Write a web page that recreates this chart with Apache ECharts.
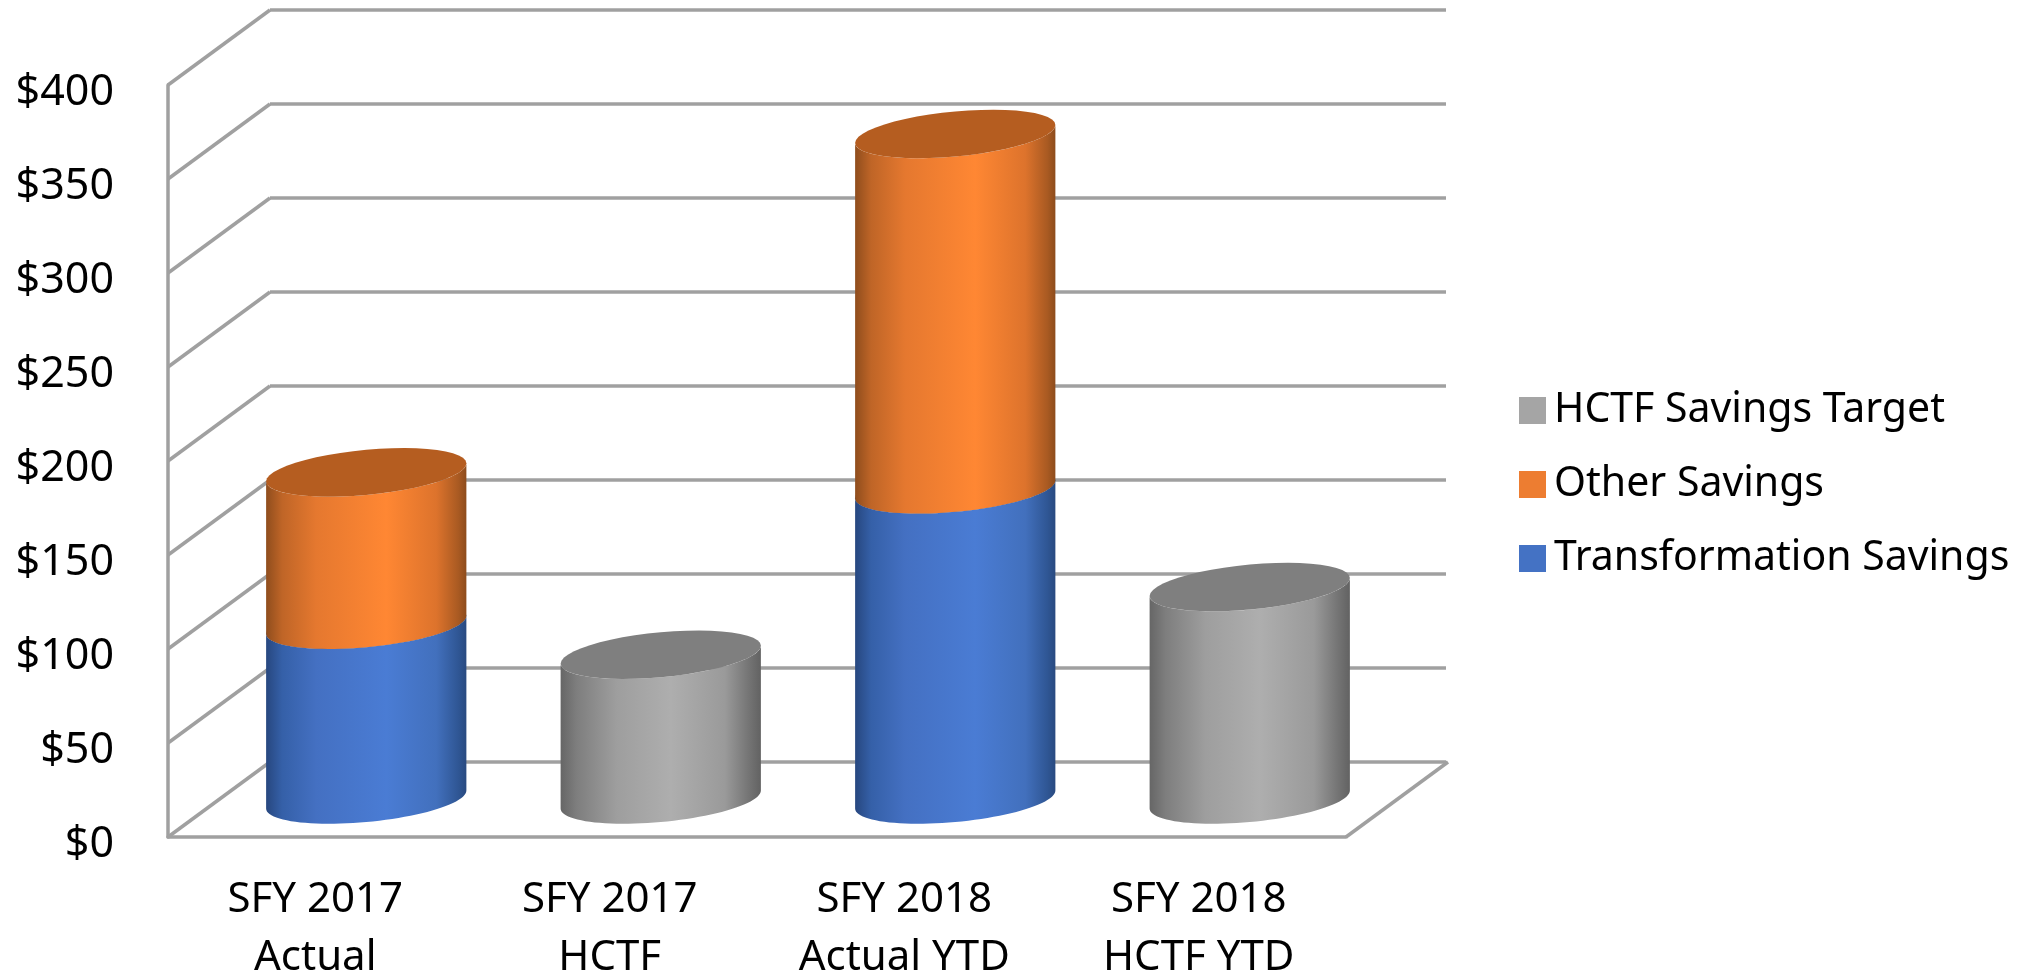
<!doctype html>
<html lang="en">
<head>
    <meta charset="UTF-8">
    <title>Savings</title>
    <script src="https://cdn.jsdelivr.net/npm/echarts@6/dist/echarts.min.js"></script>
    <style>
        html, body { margin: 0; background: #fff; }
    </style>
</head>
<body>
    <div id="main" style="width: 2022px;height:977px;"></div>
    <script>
        var categories = ['SFY 2017\nActual', 'SFY 2017\nHCTF', 'SFY 2018\nActual YTD', 'SFY 2018\nHCTF YTD'];
        var transformationSavings = [93, null, 165, null];
        var otherSavings = [81, null, 189, null];
        var targetSavings = [null, 77, null, 113];
        var yTicks = [0, 50, 100, 150, 200, 250, 300, 350, 400];

        var FONT = '"Noto Sans"';
        var GRID_COLOR = '#a0a0a0';
        // how far the back wall sits from the front of the box
        var DEPTH_X = 102;
        var DEPTH_Y = 75;

        var myChart = echarts.init(document.getElementById('main'));

        function gradient(stops) {
            return {
                type: 'linear', x: 0, y: 0, x2: 1, y2: 0,
                colorStops: stops.map(function (s) {
                    return { offset: s[0], color: s[1] };
                })
            };
        }

        // circle seen from above: sheared ellipse with its ends on the cylinder's sides
        function ellipsePoints(cx, cy, halfW, from, to) {
            var pts = [];
            var n = 48;
            for (var i = 0; i <= n; i++) {
                var t = from + (to - from) * i / n;
                pts.push([
                    cx + halfW * Math.cos(t),
                    cy - halfW * 0.09 * Math.cos(t) + halfW * 0.225 * Math.sin(t)
                ]);
            }
            return pts;
        }

        function cylinder(bodyFill, capColor) {
            return function (params, api) {
                var idx = api.value(0);
                var base = api.coord([idx, api.value(1)]);
                var top = api.coord([idx, api.value(2)]);
                var halfW = api.size([1, 0])[0] * 0.34;
                var cx = base[0] + DEPTH_X / 2;
                var yBase = base[1] - DEPTH_Y / 2;
                var yTop = top[1] - DEPTH_Y / 2;
                var body = ellipsePoints(cx, yTop, halfW, Math.PI, 0)
                    .concat(ellipsePoints(cx, yBase, halfW, 0, Math.PI));
                return {
                    type: 'group',
                    children: [{
                        type: 'polygon',
                        shape: { points: body },
                        style: { fill: bodyFill }
                    }, {
                        type: 'polygon',
                        shape: { points: ellipsePoints(cx, yTop, halfW, 0, Math.PI * 2) },
                        style: { fill: capColor }
                    }]
                };
            };
        }

        function cylinderData(lower, values) {
            var out = [];
            values.forEach(function (v, i) {
                if (v == null) return;
                var b = lower ? lower[i] : 0;
                out.push([i, b, b + v]);
            });
            return out;
        }

        function cylinderSeries(name, color, lower, values, bodyFill, capColor, z) {
            return {
                name: name,
                type: 'custom',
                xAxisIndex: 0,
                yAxisIndex: 0,
                z: z,
                itemStyle: { color: color },
                encode: { x: 0, y: [1, 2] },
                data: cylinderData(lower, values),
                renderItem: cylinder(bodyFill, capColor)
            };
        }

        var option = {
            backgroundColor: '#fff',
            animation: false,
            legend: {
                orient: 'vertical',
                left: 1514,
                top: 385,
                icon: 'rect',
                itemWidth: 27,
                itemHeight: 27,
                itemGap: 33,
                data: ['HCTF Savings Target', 'Other Savings', 'Transformation Savings'],
                textStyle: { fontFamily: FONT, fontSize: 41, color: '#000', padding: [0, 0, 0, 3] }
            },
            grid: [
                { left: 168, top: 85, width: 1178, height: 752, outerBoundsMode: 'none' },
                { left: 168 + DEPTH_X, top: 85 - DEPTH_Y, width: 1176, height: 752, outerBoundsMode: 'none' }
            ],
            xAxis: [{
                type: 'category',
                gridIndex: 0,
                data: categories,
                axisLine: { lineStyle: { color: GRID_COLOR, width: 3.5 } },
                axisTick: { show: false },
                axisLabel: { color: '#000', fontFamily: FONT, fontSize: 42, lineHeight: 58, margin: 34 }
            }, {
                type: 'category',
                gridIndex: 1,
                data: categories,
                axisLine: { show: false },
                axisTick: { show: false },
                axisLabel: { show: false }
            }],
            yAxis: [{
                type: 'value',
                gridIndex: 0,
                min: 0,
                max: 400,
                interval: 50,
                splitLine: { show: false },
                axisLine: { show: true, lineStyle: { color: GRID_COLOR, width: 3.5 } },
                axisTick: { show: false },
                axisLabel: {
                    color: '#000', fontFamily: FONT, fontSize: 43, margin: 54,
                    // nudges the text a little below the tick, as in the source chart
                    verticalAlign: 'top', lineHeight: 15,
                    formatter: function (v) { return '$' + v; }
                }
            }, {
                type: 'value',
                gridIndex: 1,
                min: 0,
                max: 400,
                interval: 50,
                splitLine: { show: true, lineStyle: { color: GRID_COLOR, width: 3.5 } },
                axisLine: { show: false },
                axisTick: { show: false },
                axisLabel: { show: false }
            }],
            series: [{
                name: 'walls',
                type: 'custom',
                xAxisIndex: 0,
                yAxisIndex: 0,
                z: 1,
                silent: true,
                encode: { y: 0 },
                data: yTicks,
                renderItem: function (params, api) {
                    var v = api.value(0);
                    var y = api.coord([0, v])[1];
                    var sys = params.coordSys;
                    var lineStyle = { stroke: GRID_COLOR, lineWidth: 3.5 };
                    var children = [{
                        type: 'line',
                        shape: { x1: sys.x, y1: y, x2: sys.x + DEPTH_X, y2: y - DEPTH_Y },
                        style: lineStyle
                    }];
                    // floor edge on the right side
                    if (v === 0) {
                        children.push({
                            type: 'line',
                            shape: { x1: sys.x + sys.width, y1: y, x2: sys.x + sys.width + DEPTH_X, y2: y - DEPTH_Y },
                            style: lineStyle
                        });
                    }
                    return { type: 'group', children: children };
                }
            },
            cylinderSeries('Transformation Savings', '#4472c4', null, transformationSavings,
                gradient([[0, '#27477f'], [0.08, '#3560a8'], [0.25, '#4470c2'], [0.6, '#4a7cd4'], [0.85, '#4270bd'], [0.96, '#2f5694'], [1, '#294a80']]),
                '#335694', 3),
            cylinderSeries('Other Savings', '#ed7d31', transformationSavings, otherSavings,
                gradient([[0, '#8f4d1d'], [0.08, '#bf6527'], [0.25, '#e5782f'], [0.6, '#ff8733'], [0.85, '#dd732c'], [0.96, '#a95a22'], [1, '#8d4c1c']]),
                '#b55d20', 4),
            cylinderSeries('HCTF Savings Target', '#a5a5a5', null, targetSavings,
                gradient([[0, '#666666'], [0.08, '#7e7e7e'], [0.28, '#9e9e9e'], [0.55, '#aeaeae'], [0.82, '#9a9a9a'], [0.96, '#6e6e6e'], [1, '#626262']]),
                '#7f7f7f', 3)
            ]
        };
        myChart.setOption(option);
    </script>
</body>
</html>
